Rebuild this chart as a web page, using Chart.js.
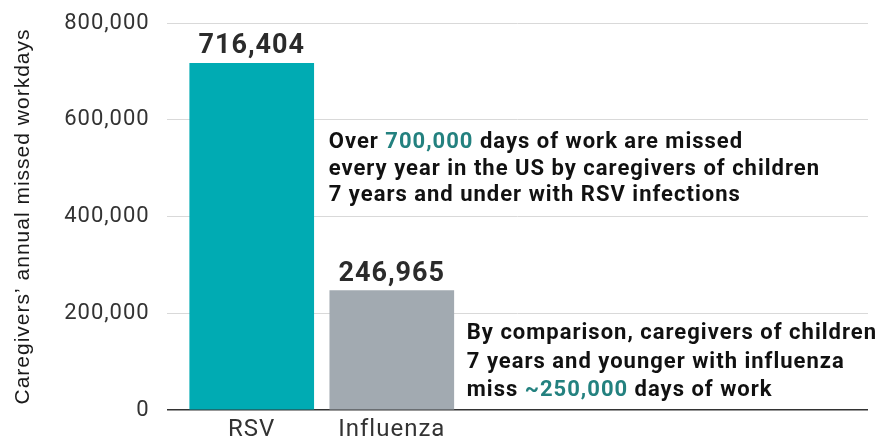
<!DOCTYPE html>
<html>
<head>
<meta charset="utf-8">
<script src="https://cdn.jsdelivr.net/npm/chart.js@4/dist/chart.umd.min.js"></script>
<style>
  html, body { margin: 0; padding: 0; background: #fff; }
  #wrap { width: 888px; height: 443px; }
</style>
</head>
<body>
<div id="wrap"><canvas id="chart"></canvas></div>
<script>
const categories = ["RSV", "Influenza"];
const missedDays = [716404, 246965];
const barColors = ["#00abb3", "#a2aab1"];
const yTicks = [0, 200000, 400000, 600000, 800000];
const yTitle = "Caregivers\u2019 annual missed workdays";

// callout text, each line is a list of [text, highlighted]
const rsvNote = [
  [["Over ", false], ["700,000", true], [" days of work are missed", false]],
  [["every year in the US by caregivers of children", false]],
  [["7 years and under with RSV infections", false]],
];
const fluNote = [
  [["By comparison, caregivers of children", false]],
  [["7 years and younger with influenza", false]],
  [["miss ", false], ["~250,000", true], [" days of work", false]],
];

const TEXT = "#111111";
const HILITE = "#23817f";
const SPACING = "1px";
const fmt = (v) => v.toLocaleString("en-US");

function drawNote(ctx, lines, x, y, lineH) {
  ctx.font = "bold 22px Roboto";
  ctx.textAlign = "left";
  ctx.textBaseline = "alphabetic";
  lines.forEach((parts, i) => {
    let cx = x;
    parts.forEach(([t, hl]) => {
      ctx.fillStyle = hl ? HILITE : TEXT;
      ctx.fillText(t, cx, y + i * lineH);
      cx += ctx.measureText(t).width;
    });
  });
}

// the source text is set a little wide, so track all canvas text out by 1px
const spacingPlugin = {
  id: "spacing",
  beforeUpdate(chart) { chart.ctx.letterSpacing = SPACING; },
  beforeDraw(chart) { chart.ctx.letterSpacing = SPACING; },
};

const labelsPlugin = {
  id: "barLabels",
  afterDatasetsDraw(chart) {
    const ctx = chart.ctx;
    const bars = chart.getDatasetMeta(0).data;
    const top = chart.chartArea.top;
    ctx.save();
    ctx.letterSpacing = SPACING;
    ctx.font = "bold 27px Roboto";
    ctx.fillStyle = "#2b2b2b";
    ctx.textAlign = "center";
    ctx.textBaseline = "alphabetic";
    bars.forEach((bar, i) => {
      ctx.fillText(fmt(missedDays[i]), bar.x, bar.y - 10);
    });
    const rsvRight = bars[0].x + bars[0].width / 2;
    const fluRight = bars[1].x + bars[1].width / 2;
    drawNote(ctx, rsvNote, rsvRight + 15, top + 125, 26.5);
    drawNote(ctx, fluNote, fluRight + 13, top + 316, 28.7);
    ctx.restore();
  },
};

new Chart(document.getElementById("chart"), {
  type: "bar",
  data: {
    datasets: [{
      data: categories.map((c, i) => ({ x: i + 1, y: missedDays[i] })),
      backgroundColor: barColors,
      borderWidth: 0,
      barThickness: 124,
    }],
  },
  options: {
    responsive: true,
    maintainAspectRatio: false,
    animation: false,
    events: [],
    layout: { padding: { left: 10, right: 20, top: 23, bottom: 1 } },
    plugins: { legend: { display: false }, tooltip: { enabled: false } },
    scales: {
      x: {
        type: "linear",
        min: 0.393,
        max: 5.4,
        offset: false,
        grid: { display: false, drawTicks: false },
        border: { display: false },
        afterBuildTicks: (axis) => { axis.ticks = categories.map((c, i) => ({ value: i + 1 })); },
        afterFit: (axis) => { axis.height = 32; },
        ticks: {
          autoSkip: false,
          maxRotation: 0,
          padding: 8,
          color: "#333333",
          font: { family: "Roboto", size: 24, lineHeight: 1 },
          callback: (v) => categories[v - 1] || "",
        },
      },
      y: {
        min: 0,
        max: 800000,
        afterBuildTicks: (axis) => { axis.ticks = yTicks.map((v) => ({ value: v })); },
        grid: {
          drawTicks: true,
          tickLength: 14,
          tickColor: "rgba(0,0,0,0)",
          color: (c) => (c.tick && c.tick.value === 0 ? "#333333" : "#d9d9d9"),
          lineWidth: (c) => (c.tick && c.tick.value === 0 ? 1.5 : 1),
        },
        border: { display: false },
        ticks: {
          padding: 3,
          color: "#333333",
          font: { family: "Roboto", size: 22 },
          callback: (v) => fmt(v),
        },
        title: {
          display: true,
          text: yTitle,
          color: "#1a1a1a",
          padding: { top: 1, bottom: 25 },
          font: { family: "Liberation Sans", size: 21 },
        },
      },
    },
  },
  plugins: [spacingPlugin, labelsPlugin],
});
</script>
</body>
</html>
